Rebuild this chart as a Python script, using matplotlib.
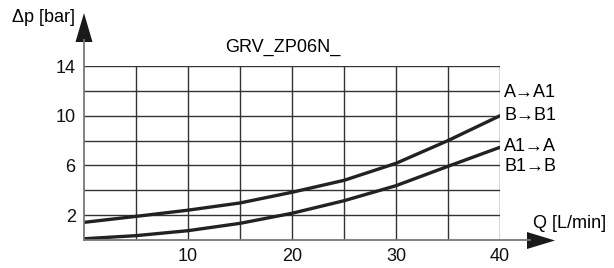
import matplotlib
matplotlib.use('Agg')
import matplotlib.pyplot as plt
from matplotlib.patches import Polygon

plt.rcParams['font.family'] = ['Liberation Sans', 'DejaVu Sans']

# Q [L/min]
flow = [0, 5, 10, 15, 20, 25, 30, 35, 40]
# A->A1 / B->B1
dp_upper = [1.42, 1.9, 2.4, 2.98, 3.84, 4.8, 6.17, 8.0, 10.0]
# A1->A / B1->B
dp_lower = [0.1, 0.35, 0.75, 1.34, 2.15, 3.16, 4.37, 5.93, 7.46]

x_ticks = [10, 20, 30, 40]
y_ticks = [2, 6, 10, 14]

W, H = 614, 268
fig = plt.figure(figsize=(W / 100, H / 100), dpi=100)
ax = fig.add_axes([84 / W, 28 / H, 416 / W, 174 / H])

ax.set_xlim(0, 40)
ax.set_ylim(0, 14)

# grid
for gx in range(5, 41, 5):
    ax.axvline(gx, color='#333333', lw=1.0, zorder=1)
for gy in range(2, 15, 2):
    ax.axhline(gy, color='#333333', lw=1.0, zorder=1)

ax.plot(flow, dp_upper, color='#222222', lw=2.4, solid_capstyle='round', zorder=3)
ax.plot(flow, dp_lower, color='#222222', lw=2.4, solid_capstyle='round', zorder=3)

for s in ax.spines.values():
    s.set_visible(False)

ax.set_xticks(x_ticks)
ax.set_yticks(y_ticks)
ax.tick_params(length=0, labelsize=13, pad=6, colors='#111111')


def px(x, y):
    # pixel position -> figure fraction
    return (x / W, 1 - y / H)


# axis lines + arrow heads
fig.add_artist(plt.Line2D([px(84, 0)[0], px(84, 0)[0]], [px(0, 240)[1], px(0, 40)[1]],
                          color='#777777', lw=1.3))
fig.add_artist(plt.Line2D([px(84, 0)[0], px(530, 0)[0]], [px(0, 240)[1], px(0, 240)[1]],
                          color='#777777', lw=1.3))
fig.add_artist(Polygon([px(84, 13), px(75.5, 42), px(92.5, 42)], closed=True,
                       color='#1a1a1a', lw=0))
fig.add_artist(Polygon([px(555, 240.5), px(527, 232), px(527, 249)], closed=True,
                       color='#1a1a1a', lw=0))

ax.text(-0.9, 17.9, 'Δp [bar]', ha='right', va='center', fontsize=13)
ax.text(43.2, 1.3, 'Q [L/min]', ha='left', va='center', fontsize=13)
ax.text(19.1, 15.5, 'GRV_ZP06N_', ha='center', va='center', fontsize=13)

ax.text(40.4, 11.9, 'A→A1', ha='left', va='center', fontsize=13)
ax.text(40.4, 10.0, 'B→B1', ha='left', va='center', fontsize=13)
ax.text(40.4, 7.55, 'A1→A', ha='left', va='center', fontsize=13)
ax.text(40.4, 5.95, 'B1→B', ha='left', va='center', fontsize=13)

fig.savefig('out.png', dpi=100)
plt.close()
